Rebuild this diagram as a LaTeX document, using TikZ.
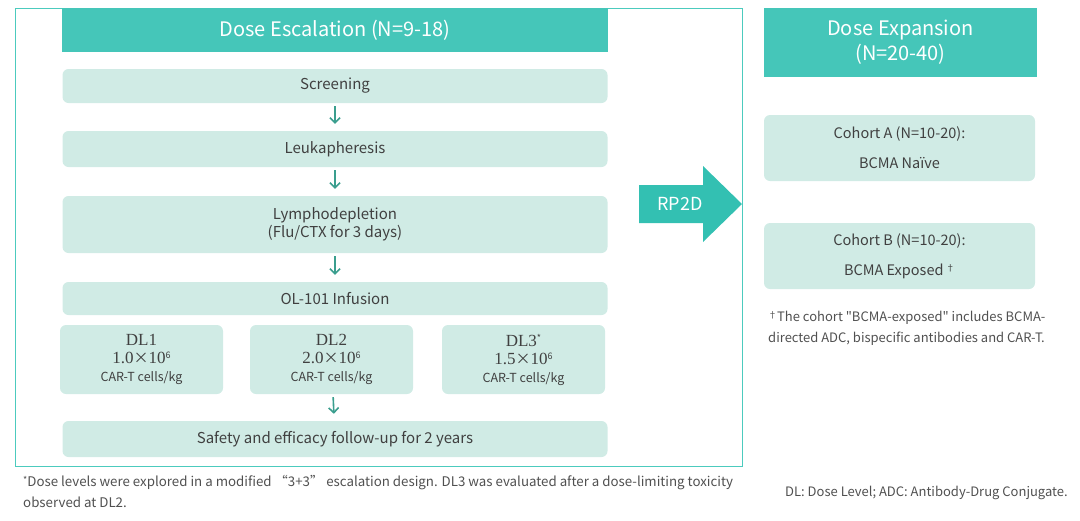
\documentclass[tikz,border=0pt]{standalone}
\usepackage{fontspec}
\setmainfont{Noto Sans CJK SC}[Ligatures=TeXOff]
\newfontfamily\serx{Liberation Serif}
\usetikzlibrary{arrows.meta}
\definecolor{tealh}{HTML}{45C6B9}
\definecolor{rpc}{HTML}{33C0B2}
\definecolor{mint}{HTML}{D0EBE5}
\definecolor{arrc}{HTML}{3A9E8E}
\definecolor{txtc}{HTML}{404040}
\definecolor{fnc}{HTML}{505050}
\definecolor{framec}{HTML}{4CCBBE}
\newcommand{\dlbig}[1]{{\serx\fontsize{17}{21}\selectfont #1}}
\newcommand{\supsix}{\raisebox{5pt}{\fontsize{9}{9}\selectfont 6}}
\newcommand{\carline}{{\fontsize{12.5}{20}\selectfont CAR-T cells/kg}}
\begin{document}
\begin{tikzpicture}[x=1pt,y=-1pt,
 box/.style={fill=mint, rounded corners=6pt, text=txtc, font=\fontsize{15}{18}\selectfont, inner sep=0pt, align=center},
 hdr/.style={fill=tealh, text=white, font=\fontsize{20}{25}\selectfont, inner sep=0pt, align=center},
 arr/.style={draw=arrc, line width=1.6pt, -{Straight Barb[length=5pt,width=10pt]}, shorten <=3pt, shorten >=7pt},
 note/.style={text=fnc, font=\fontsize{13}{21}\selectfont, inner sep=0pt, align=left}]
\useasboundingbox (0,0) rectangle (1080,520);
\draw[framec, line width=1pt] (15,8) rectangle (742,466);
\node[hdr, minimum width=546pt, minimum height=44pt] (hd) at (335,30) {Dose Escalation (N=9-18)};
\node[box, minimum width=545pt, minimum height=34pt] (scr) at (335,86) {Screening};
\node[box, minimum width=545pt, minimum height=36pt] (leu) at (335,149) {Leukapheresis};
\node[box, minimum width=545pt, minimum height=57pt] (lym) at (335,224.5) {Lymphodepletion\\(Flu/CTX for 3 days)};
\node[box, minimum width=545pt, minimum height=33pt] (inf) at (335,298.5) {OL-101 Infusion};
\node[box, minimum width=163pt, minimum height=69pt] (dl1) at (141.5,359.5) {\dlbig{DL1}\\\dlbig{1.0}×\dlbig{10}\supsix\\\carline};
\node[box, minimum width=163pt, minimum height=69pt] (dl2) at (331.5,359.5) {\dlbig{DL2}\\\dlbig{2.0}×\dlbig{10}\supsix\\\carline};
\node[box, minimum width=163pt, minimum height=69pt] (dl3) at (523.5,359.5) {\dlbig{DL3}\raisebox{5pt}{\fontsize{9}{9}\selectfont *}\\\dlbig{1.5}×\dlbig{10}\supsix\\\carline};
\node[box, minimum width=545pt, minimum height=36pt] (saf) at (335,439) {Safety and efficacy follow-up for 2 years};
\draw[arr] (scr) -- (leu);
\draw[arr] (leu) -- (lym);
\draw[arr] (lym) -- (inf);
\draw[arr] (dl2) -- (saf);
\fill[rpc] (639,185) -- (703,185) -- (703,166) -- (742,204) -- (703,242) -- (703,223) -- (639,223) -- cycle;
\node[text=white, font=\fontsize{18}{20}\selectfont, inner sep=0pt] (rp) at (680,204) {RP2D};
\node[hdr, minimum width=273pt, minimum height=69pt] (he) at (900.5,42.5) {Dose Expansion\\(N=20-40)};
\node[box, minimum width=271pt, minimum height=66pt, font=\fontsize{14.5}{22}\selectfont] (coa) at (899.5,148) {Cohort A (N=10-20):\\[8pt]BCMA Naïve};
\node[box, minimum width=271pt, minimum height=66pt, font=\fontsize{14.5}{22}\selectfont] (cob) at (899.5,256) {Cohort B (N=10-20):\\[8pt]BCMA Exposed\,\raisebox{4pt}{\fontsize{9}{9}\selectfont †}};
\node[note, anchor=north west] (fn2) at (768,311) {\raisebox{3pt}{\fontsize{9}{9}\selectfont †}The cohort "BCMA-exposed" includes BCMA-\\directed ADC, bispecific antibodies and CAR-T.};
\node[note, anchor=north west, font=\fontsize{13.3}{21}\selectfont] (fn1) at (23,475) {\raisebox{3pt}{\fontsize{9}{9}\selectfont *}Dose levels were explored in a modified “3+3” escalation design. DL3 was evaluated after a dose-limiting toxicity\\observed at DL2.};
\node[note, anchor=base west] (fn3) at (785,496) {DL: Dose Level; ADC: Antibody-Drug Conjugate.};
\end{tikzpicture}
\end{document}
